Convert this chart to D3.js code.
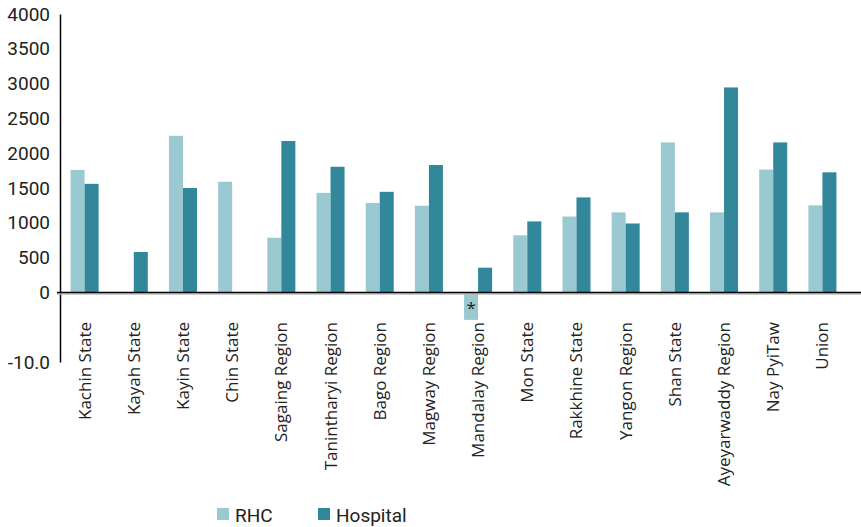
<!DOCTYPE html>
<html>
<head>
<meta charset="utf-8">
<script src="https://cdn.jsdelivr.net/npm/d3@7"></script>
<style>
	body { margin: 0; background: #fff; }
	text { fill: #222; }
</style>
</head>
<body>
<div id="chart"></div>
<script>
var categories = ["Kachin State", "Kayah State", "Kayin State", "Chin State", "Sagaing Region",
	"Tanintharyi Region", "Bago Region", "Magway Region", "Mandalay Region", "Mon State",
	"Rakkhine State", "Yangon Region", "Shan State", "Ayeyarwaddy Region", "Nay PyiTaw", "Union"];
var seriesNames = ["RHC", "Hospital"];
var rhc = [1760, null, 2250, 1590, 785, 1430, 1285, 1245, -395, 820, 1090, 1150, 2155, 1150, 1765, 1250];
var hospital = [1560, 580, 1500, null, 2175, 1805, 1445, 1830, 355, 1020, 1365, 990, 1150, 2945, 2155, 1725];
var yTicks = [-1000, 0, 500, 1000, 1500, 2000, 2500, 3000, 3500, 4000];
var colors = ["#9ac9d1", "#33879b"];

var W = 861, H = 527;
var svg = d3.select("#chart").append("svg")
	.attr("width", W)
	.attr("height", H)
	.style("font-family", "Roboto, sans-serif");

var y = d3.scaleLinear().domain([-1000, 4000]).range([362, 14]);

var x0 = d3.scaleBand().domain(categories).range([60, 847])
	.paddingInner(0.43).paddingOuter(0.215);
var x1 = d3.scaleBand().domain(seriesNames).range([0, x0.bandwidth()]);

var rows = categories.map(function(c, i) {
	return { cat: c, vals: [rhc[i], hospital[i]] };
});

var g = svg.selectAll("g.grp").data(rows).enter().append("g")
	.attr("class", "grp")
	.attr("transform", function(d) { return "translate(" + x0(d.cat) + ",0)"; });

g.selectAll("rect").data(function(d) {
	return d.vals.map(function(v, k) { return { k: k, v: v }; }).filter(function(e) { return e.v != null; });
}).enter().append("rect")
	.attr("x", function(d) { return x1(seriesNames[d.k]); })
	.attr("width", x1.bandwidth())
	.attr("y", function(d) { return y(Math.max(d.v, 0)); })
	.attr("height", function(d) { return Math.abs(y(d.v) - y(0)); })
	.attr("fill", function(d) { return colors[d.k]; });

// asterisk on the negative Mandalay bar
var mi = categories.indexOf("Mandalay Region");
svg.append("text")
	.attr("x", x0(categories[mi]) + x1("RHC") + x1.bandwidth() / 2)
	.attr("y", y(0) + 22)
	.attr("text-anchor", "middle")
	.style("font-family", "'Open Sans', sans-serif")
	.attr("font-size", "17px")
	.text("*");

// y axis
var yAxis = d3.axisLeft(y).tickValues(yTicks).tickSize(0).tickPadding(10)
	.tickFormat(function(d) { return d < 0 ? "-10.0" : d; });
var ya = svg.append("g").attr("transform", "translate(60,0)").call(yAxis);
ya.select(".domain").attr("stroke", "#000").attr("stroke-width", 1.5);
ya.selectAll("text").attr("font-size", "19px").attr("fill", "#222")
	.style("font-family", "Roboto, sans-serif");

// zero line
svg.append("line")
	.attr("x1", 57).attr("x2", W)
	.attr("y1", y(0) + 1.5).attr("y2", y(0) + 1.5)
	.attr("stroke", "#bbb").attr("stroke-width", 1.5);
svg.append("line")
	.attr("x1", 57).attr("x2", W)
	.attr("y1", y(0)).attr("y2", y(0))
	.attr("stroke", "#000").attr("stroke-width", 1.5);

// category labels
svg.selectAll("text.cat").data(categories).enter().append("text")
	.attr("class", "cat")
	.attr("transform", function(d) {
		return "translate(" + (x0(d) + x0.bandwidth() / 2 + 6) + ",322) rotate(-90)";
	})
	.attr("text-anchor", "end")
	.style("font-family", "'Open Sans', sans-serif")
	.attr("font-size", "17px")
	.text(function(d) { return d; });

// legend
var legX = [217, 318];
seriesNames.forEach(function(s, i) {
	svg.append("rect")
		.attr("x", legX[i]).attr("y", 508)
		.attr("width", 12).attr("height", 12)
		.attr("fill", colors[i]);
	svg.append("text")
		.attr("x", legX[i] + 18).attr("y", 522)
		.attr("font-size", "19px")
		.text(s);
});
</script>
</body>
</html>
